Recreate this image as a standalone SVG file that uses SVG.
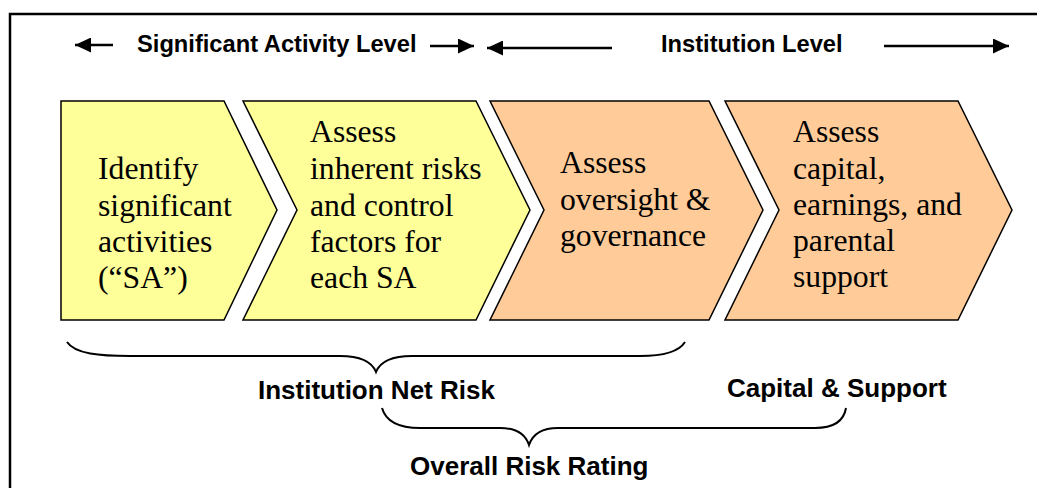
<svg xmlns="http://www.w3.org/2000/svg" width="1037" height="488" viewBox="0 0 1037 488">
<defs>
<marker id="ah" markerUnits="userSpaceOnUse" markerWidth="16" markerHeight="15" refX="16" refY="7.5" orient="auto">
<path d="M0,0 L16,7.5 L0,15 Z" fill="#000"/>
</marker>
<style>
.frame{fill:none;stroke:#000;stroke-width:2.5}
.chev{stroke:#000;stroke-width:1.5;stroke-linejoin:miter}
.yel{fill:#FFFF99}
.org{fill:#FFCC99}
.body{font-family:"Liberation Serif","Times New Roman",serif;font-size:31.7px;fill:#000}
.hdr{font-family:"Liberation Sans",Arial,sans-serif;font-weight:bold;font-size:23.7px;fill:#000}
.lbl{font-family:"Liberation Sans",Arial,sans-serif;font-weight:bold;font-size:26px;fill:#000}
.arr{stroke:#000;stroke-width:2.5;fill:none;marker-end:url(#ah)}
.brace{stroke:#000;stroke-width:2;fill:none}
</style>
</defs>
<rect width="1037" height="488" fill="#fff"/>
<path class="frame" d="M10,488 L10,14 L1037,14"/>

<g id="header">
<text class="hdr" x="137" y="52">Significant Activity Level</text>
<text class="hdr" x="661" y="52">Institution Level</text>
</g>

<g id="node-identify">
<path class="chev yel" d="M61,101 L224,101 L277,210 L224,320 L61,320 Z"/>
<text class="body" x="98"><tspan x="98" y="179">Identify</tspan><tspan x="98" y="216">significant</tspan><tspan x="98" y="252">activities</tspan><tspan x="98" y="288">(“SA”)</tspan></text>
</g>

<g id="node-assess-inherent">
<path class="chev yel" d="M243,101 L476,101 L530,210 L476,320 L243,320 L297,210 Z"/>
<text class="body"><tspan x="310" y="142">Assess</tspan><tspan x="310" y="179">inherent risks</tspan><tspan x="310" y="216">and control</tspan><tspan x="310" y="252">factors for</tspan><tspan x="310" y="288">each SA</tspan></text>
</g>

<g id="node-assess-oversight">
<path class="chev org" d="M490,101 L709,101 L763,210 L709,320 L490,320 L544,210 Z"/>
<text class="body"><tspan x="560" y="173">Assess</tspan><tspan x="560" y="210">oversight &amp;</tspan><tspan x="560" y="246">governance</tspan></text>
</g>

<g id="node-assess-capital">
<path class="chev org" d="M725,101 L958,101 L1012,210 L958,320 L725,320 L779,210 Z"/>
<text class="body"><tspan x="793" y="142">Assess</tspan><tspan x="793" y="179">capital,</tspan><tspan x="793" y="215">earnings, and</tspan><tspan x="793" y="251">parental</tspan><tspan x="793" y="287">support</tspan></text>
</g>

<g id="connectors">
<line class="arr" x1="113" y1="45" x2="75" y2="45"/>
<line class="arr" x1="430" y1="46" x2="474" y2="46"/>
<line class="arr" x1="612" y1="48" x2="487" y2="48"/>
<line class="arr" x1="884" y1="46" x2="1009" y2="46"/>
<path class="brace" d="M67,342 C75,354 100,356 130,356 L340,356 C362,356 372,362 376,372 C380,362 390,356 412,356 L640,356 C668,356 680,350 685,342"/>
<path class="brace" d="M382,408 C386,422 400,428 420,428 L500,428 C518,428 526,436 529,445 C532,436 540,428 558,428 L815,428 C835,428 844,420 846,408"/>
</g>

<g id="label-net-risk"><text class="lbl" x="258" y="399">Institution Net Risk</text></g>
<g id="label-capital"><text class="lbl" x="727" y="397">Capital &amp; Support</text></g>
<g id="label-overall"><text class="lbl" x="410" y="475">Overall Risk Rating</text></g>
</svg>
